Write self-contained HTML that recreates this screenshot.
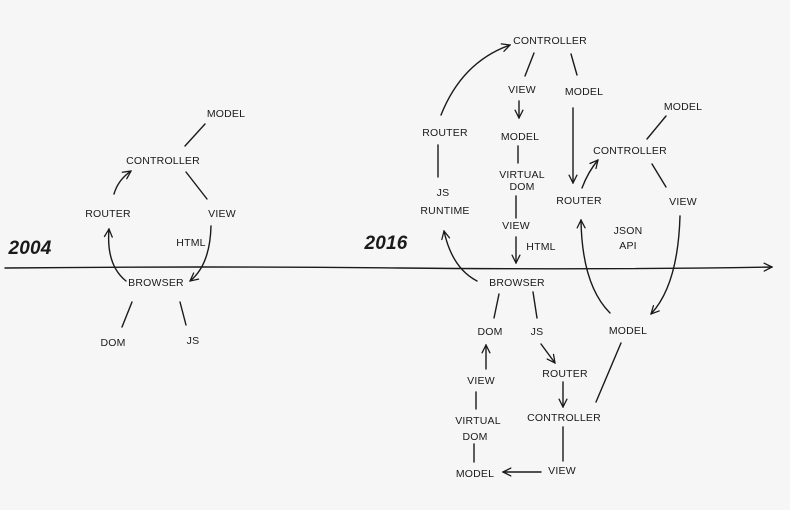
<!DOCTYPE html>
<html><head><meta charset="utf-8"><style>
html,body{margin:0;padding:0;background:#f6f6f6;}
svg{display:block;}
text{font-family:"Liberation Sans",sans-serif;font-size:10.5px;fill:#1a1a1a;text-anchor:middle;letter-spacing:0.2px;}
.big{font-size:19px;font-weight:bold;font-style:italic;}
path,line{stroke:#1a1a1a;stroke-width:1.4;fill:none;stroke-linecap:round;}
</style></head><body>
<svg width="790" height="510" viewBox="0 0 790 510">
<defs><marker id="a" viewBox="0 0 10 10" refX="9" refY="5" markerWidth="7" markerHeight="7" orient="auto-start-reverse"><path d="M1,1 L9,5 L1,9" style="stroke-width:1.3"/></marker></defs>
<rect width="790" height="510" fill="#f6f6f6"/>
<!-- timeline -->
<path d="M5,268 Q200,266 400,268 T772,267" marker-end="url(#a)"/>
<text class="big" x="30" y="254">2004</text>
<text class="big" x="386" y="249">2016</text>

<!-- 2004 -->
<text x="226" y="117">MODEL</text>
<line x1="205" y1="124" x2="185" y2="146"/>
<text x="163" y="164">CONTROLLER</text>
<line x1="186" y1="172" x2="207" y2="199"/>
<text x="108" y="217">ROUTER</text>
<path d="M114,194 Q118,180 131,171" marker-end="url(#a)"/>
<text x="222" y="217">VIEW</text>
<text x="191" y="246">HTML</text>
<path d="M211,226 Q210,265 190,281" marker-end="url(#a)"/>
<path d="M126,281 Q106,265 109,229" marker-end="url(#a)"/>
<text x="156" y="286">BROWSER</text>
<line x1="132" y1="302" x2="122" y2="327"/>
<line x1="180" y1="302" x2="186" y2="325"/>
<text x="113" y="346">DOM</text>
<text x="193" y="344">JS</text>

<!-- 2016 top -->
<text x="550" y="44">CONTROLLER</text>
<line x1="534" y1="53" x2="525" y2="76"/>
<line x1="571" y1="54" x2="577" y2="75"/>
<text x="522" y="93">VIEW</text>
<text x="584" y="95">MODEL</text>
<line x1="519" y1="101" x2="519" y2="118" marker-end="url(#a)"/>
<text x="520" y="140">MODEL</text>
<line x1="518" y1="146" x2="518" y2="163"/>
<text x="522" y="178">VIRTUAL</text>
<text x="522" y="190">DOM</text>
<line x1="516" y1="196" x2="516" y2="218"/>
<text x="516" y="229">VIEW</text>
<line x1="516" y1="237" x2="516" y2="263" marker-end="url(#a)"/>
<text x="541" y="250">HTML</text>
<text x="445" y="136">ROUTER</text>
<line x1="438" y1="145" x2="438" y2="177"/>
<text x="443" y="196">JS</text>
<text x="445" y="214">RUNTIME</text>
<path d="M441,115 Q462,62 510,45" marker-end="url(#a)"/>
<path d="M477,281 Q452,268 444,231" marker-end="url(#a)"/>
<line x1="573" y1="108" x2="573" y2="183" marker-end="url(#a)"/>
<text x="579" y="204">ROUTER</text>
<path d="M582,188 Q588,172 598,160" marker-end="url(#a)"/>
<text x="630" y="154">CONTROLLER</text>
<text x="683" y="110">MODEL</text>
<line x1="666" y1="116" x2="647" y2="139"/>
<line x1="652" y1="164" x2="666" y2="187"/>
<text x="683" y="205">VIEW</text>
<text x="628" y="234">JSON</text>
<text x="628" y="249">API</text>
<path d="M610,313 Q582,285 581,220" marker-end="url(#a)"/>
<path d="M680,216 Q678,285 651,314" marker-end="url(#a)"/>

<!-- 2016 bottom -->
<text x="517" y="286">BROWSER</text>
<line x1="499" y1="294" x2="494" y2="318"/>
<line x1="533" y1="292" x2="537" y2="318"/>
<text x="490" y="335">DOM</text>
<text x="537" y="335">JS</text>
<line x1="541" y1="344" x2="555" y2="363" marker-end="url(#a)"/>
<text x="565" y="377">ROUTER</text>
<line x1="563" y1="382" x2="563" y2="407" marker-end="url(#a)"/>
<text x="564" y="421">CONTROLLER</text>
<line x1="563" y1="427" x2="563" y2="461"/>
<text x="562" y="474">VIEW</text>
<line x1="541" y1="472" x2="503" y2="472" marker-end="url(#a)"/>
<text x="475" y="477">MODEL</text>
<line x1="474" y1="462" x2="474" y2="444"/>
<text x="478" y="424">VIRTUAL</text>
<text x="475" y="440">DOM</text>
<line x1="476" y1="392" x2="476" y2="409"/>
<text x="481" y="384">VIEW</text>
<line x1="486" y1="369" x2="486" y2="345" marker-end="url(#a)"/>
<text x="628" y="334">MODEL</text>
<line x1="621" y1="343" x2="596" y2="402"/>
</svg>
</body></html>
